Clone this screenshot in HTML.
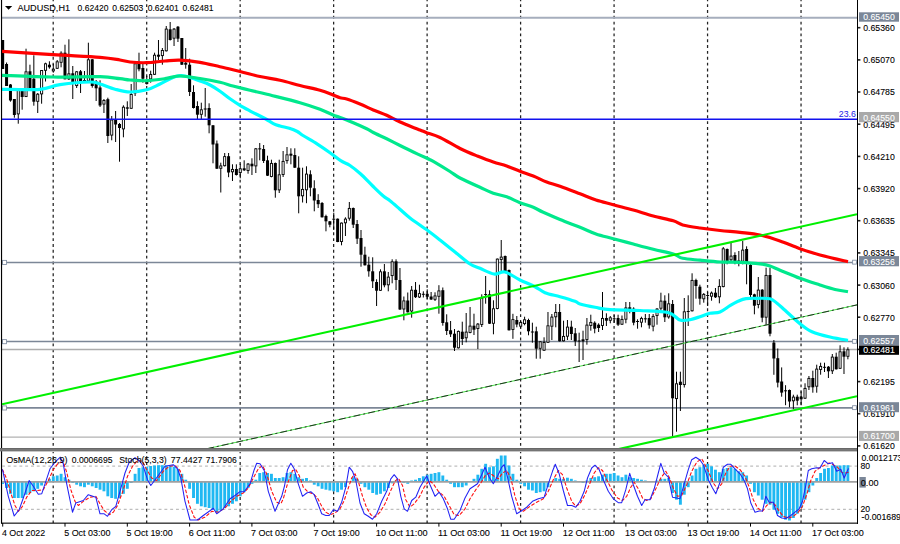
<!DOCTYPE html>
<html><head><meta charset="utf-8"><title>AUDUSD,H1</title>
<style>
html,body{margin:0;padding:0;background:#fff;}
body{width:900px;height:544px;overflow:hidden;position:relative;font-family:"Liberation Sans",sans-serif;}
svg{position:absolute;left:0;top:0;display:block;}
text{font-family:"Liberation Sans",sans-serif;}
.t{font-size:9.6px;fill:#000;stroke:#000;stroke-width:0.1px;}
.ax{font-size:9.6px;fill:#000;stroke:#000;stroke-width:0.1px;}
.bx{font-size:9.6px;fill:#fff;stroke:#fff;stroke-width:0.1px;}
</style></head><body>
<svg width="900" height="544" viewBox="0 0 900 544">
<rect x="0" y="0" width="900" height="544" fill="#fff"/>
<defs>
<clipPath id="cm"><rect x="2" y="0" width="855" height="448"/></clipPath>
<clipPath id="ci"><rect x="2" y="451.5" width="855" height="71.5"/></clipPath>
</defs>
<g stroke="#222" stroke-width="1.25" stroke-dasharray="2.9 2.95" stroke-dashoffset="1.7">
<line x1="53.2" y1="0" x2="53.2" y2="448"/>
<line x1="53.2" y1="452.0" x2="53.2" y2="523"/>
<line x1="146.69" y1="0" x2="146.69" y2="448"/>
<line x1="146.69" y1="452.0" x2="146.69" y2="523"/>
<line x1="240.16" y1="0" x2="240.16" y2="448"/>
<line x1="240.16" y1="452.0" x2="240.16" y2="523"/>
<line x1="333.64" y1="0" x2="333.64" y2="448"/>
<line x1="333.64" y1="452.0" x2="333.64" y2="523"/>
<line x1="427.12" y1="0" x2="427.12" y2="448"/>
<line x1="427.12" y1="452.0" x2="427.12" y2="523"/>
<line x1="520.6" y1="0" x2="520.6" y2="448"/>
<line x1="520.6" y1="452.0" x2="520.6" y2="523"/>
<line x1="614.08" y1="0" x2="614.08" y2="448"/>
<line x1="614.08" y1="452.0" x2="614.08" y2="523"/>
<line x1="707.56" y1="0" x2="707.56" y2="448"/>
<line x1="707.56" y1="452.0" x2="707.56" y2="523"/>
<line x1="801.04" y1="0" x2="801.04" y2="448"/>
<line x1="801.04" y1="452.0" x2="801.04" y2="523"/>
</g>
<g clip-path="url(#cm)">
<line x1="2" y1="17.8" x2="857" y2="17.8" stroke="#a6aebd" stroke-width="2.0"/>
<line x1="2" y1="262.4" x2="857" y2="262.4" stroke="#7c8797" stroke-width="1.5"/>
<line x1="2" y1="341.6" x2="857" y2="341.6" stroke="#7c8797" stroke-width="1.5"/>
<line x1="2" y1="349.5" x2="857" y2="349.5" stroke="#adadad" stroke-width="1.3"/>
<line x1="2" y1="407.9" x2="857" y2="407.9" stroke="#7c8797" stroke-width="1.7"/>
<line x1="2" y1="437.1" x2="857" y2="437.1" stroke="#b2b2b2" stroke-width="1.4"/>
</g>
<g clip-path="url(#cm)">
<path d="M2.67 40.0V69.0M6.56 62.5V86.0M10.46 84.0V101.7M14.36 99.0V117.7M18.25 88.0V123.7M22.15 88.0V109.7M26.04 48.7V97.0M29.94 64.7V91.0M33.83 55.3V105.7M37.73 93.0V113.0M41.62 70.0V103.7M45.52 62.7V81.5M49.41 61.3V68.7M53.30 64.0V72.7M57.20 60.0V69.0M61.09 51.3V67.3M64.99 44.7V79.3M68.89 39.3V80.0M72.78 66.0V99.0M76.67 71.0V88.0M80.57 70.0V93.0M84.47 71.0V81.5M88.36 42.7V81.5M92.25 59.0V87.7M96.15 80.0V101.0M100.05 80.3V107.0M103.94 99.0V113.0M107.84 97.7V143.0M111.73 116.0V140.3M115.62 111.0V142.0M119.52 123.0V161.7M123.42 105.3V137.3M127.31 101.3V116.0M131.20 84.0V109.0M135.10 63.0V96.0M138.99 52.7V71.3M142.89 62.7V82.7M146.78 76.0V84.5M150.68 70.7V82.7M154.57 52.7V75.0M158.47 40.0V60.0M162.36 48.0V64.7M166.26 26.0V51.5M170.16 22.0V40.5M174.05 28.0V46.0M177.94 26.0V42.0M181.84 38.0V65.0M185.73 48.0V68.7M189.63 58.7V96.0M193.52 85.3V108.5M197.42 101.3V120.0M201.31 102.7V120.0M205.21 88.0V116.7M209.10 103.3V133.3M213.00 125.0V163.3M216.89 140.5V169.0M220.79 162.7V192.5M224.69 153.0V166.5M228.58 153.0V177.2M232.47 164.3V181.0M236.37 164.3V175.5M240.26 163.7V178.3M244.16 160.3V171.0M248.05 163.0V173.7M251.95 158.3V175.0M255.84 148.0V173.0M259.74 143.0V160.3M263.63 145.0V163.0M267.53 155.7V176.0M271.43 159.7V177.3M275.32 162.5V197.7M279.22 159.7V193.0M283.11 151.0V177.0M287.00 147.0V163.7M290.90 148.3V164.3M294.80 148.3V168.0M298.69 156.3V213.3M302.59 167.7V202.5M306.48 166.3V203.2M310.38 170.3V196.3M314.27 180.3V211.3M318.17 194.2V208.0M322.06 202.0V217.5M325.96 214.7V231.3M329.85 221.0V227.3M333.75 212.7V230.0M337.64 218.5V242.2M341.54 222.5V245.3M345.43 217.3V236.0M349.33 202.0V220.7M353.22 207.5V228.0M357.12 220.0V244.0M361.01 230.0V266.7M364.91 246.7V265.5M368.80 256.7V276.7M372.69 257.3V288.0M376.59 279.3V306.0M380.49 269.3V291.0M384.38 264.0V287.3M388.28 272.0V291.3M392.17 259.3V283.3M396.06 259.3V290.0M399.96 268.0V310.0M403.86 296.5V320.3M407.75 292.5V312.5M411.65 286.0V317.7M415.54 282.0V298.0M419.44 284.7V298.0M423.33 291.3V297.5M427.23 289.3V299.3M431.12 292.0V300.0M435.02 292.3V301.0M438.91 285.2V313.7M442.81 287.5V325.7M446.70 314.3V335.0M450.60 321.0V337.0M454.49 329.0V351.0M458.38 330.5V348.5M462.28 321.7V345.0M466.18 313.0V342.3M470.07 307.0V333.3M473.97 313.7V335.0M477.86 323.0V349.0M481.75 294.3V327.0M485.65 276.0V303.7M489.55 290.3V324.0M493.44 300.3V334.3M497.34 258.5V309.3M501.23 240.0V271.0M505.12 255.5V271.5M509.02 269.5V330.5M512.91 313.8V338.8M516.81 316.0V327.3M520.70 321.0V328.7M524.60 316.7V325.3M528.50 318.7V335.3M532.39 322.7V342.7M536.28 326.7V358.7M540.18 341.0V358.7M544.07 337.3V351.0M547.97 312.0V343.0M551.87 314.0V340.0M555.76 304.0V327.3M559.65 304.0V341.5M563.55 320.7V341.5M567.44 320.0V340.0M571.34 320.7V340.0M575.24 328.0V346.0M579.13 332.7V362.0M583.02 330.7V360.0M586.92 318.0V344.7M590.81 314.7V330.7M594.71 321.3V333.3M598.61 323.3V332.0M602.50 292.0V330.0M606.39 313.3V326.0M610.29 316.0V323.3M614.18 314.7V322.7M618.08 314.7V326.0M621.97 315.5V325.0M625.87 302.0V323.3M629.76 302.0V313.3M633.66 307.3V325.3M637.55 319.3V328.7M641.45 316.7V327.3M645.34 314.0V322.7M649.24 314.0V328.7M653.13 314.0V331.3M657.03 308.0V324.7M660.92 292.7V310.7M664.82 295.3V322.0M668.71 293.3V318.7M672.61 300.0V436.3M676.50 371.7V431.7M680.40 371.7V411.0M684.29 298.0V387.5M688.19 295.3V326.0M692.08 273.3V311.5M695.98 278.7V298.7M699.88 284.7V304.7M703.77 293.0V302.7M707.66 292.0V306.0M711.56 291.5V300.7M715.45 288.0V298.0M719.35 279.2V303.3M723.25 247.0V287.3M727.14 248.5V264.3M731.03 243.0V261.0M734.93 252.3V264.3M738.82 251.0V266.3M742.72 241.0V264.3M746.62 246.3V284.3M750.51 264.0V297.0M754.40 293.7V314.3M758.30 277.0V308.3M762.19 289.0V322.3M766.09 267.7V325.0M769.99 267.7V336.3M773.88 340.0V374.8M777.77 348.5V387.4M781.67 367.4V396.7M785.56 385.2V405.2M789.46 389.5V407.3M793.36 394.7V409.3M797.25 394.7V405.3M801.14 391.3V405.3M805.04 383.3V399.0M808.93 376.0V390.0M812.83 370.7V392.7M816.72 364.7V392.7M820.62 362.7V374.7M824.51 362.7V372.0M828.41 366.0V378.0M832.30 354.0V374.0M836.20 352.7V369.5M840.09 345.3V369.0M843.99 347.3V374.0M847.88 347.3V359.3" stroke="#000" stroke-width="1" fill="none"/>
<g fill="#000"><rect x="1.17" y="40.0" width="3" height="29.0"/><rect x="5.06" y="64.0" width="3" height="22.0"/><rect x="8.96" y="84.5" width="3" height="16.0"/><rect x="12.86" y="99.0" width="3" height="16.0"/><rect x="20.65" y="88.3" width="3" height="8.7"/><rect x="28.44" y="71.3" width="3" height="18.7"/><rect x="32.33" y="78.7" width="3" height="23.0"/><rect x="47.91" y="64.7" width="3" height="2.6"/><rect x="63.49" y="52.7" width="3" height="26.6"/><rect x="71.28" y="73.3" width="3" height="9.4"/><rect x="79.07" y="71.3" width="3" height="10.0"/><rect x="82.97" y="80.0" width="3" height="1.3"/><rect x="90.75" y="59.3" width="3" height="26.7"/><rect x="94.65" y="81.5" width="3" height="6.8"/><rect x="98.55" y="87.5" width="3" height="18.0"/><rect x="106.34" y="99.2" width="3" height="36.8"/><rect x="114.12" y="119.5" width="3" height="5.0"/><rect x="118.02" y="124.0" width="3" height="4.0"/><rect x="125.81" y="107.3" width="3" height="1.4"/><rect x="137.49" y="63.3" width="3" height="6.0"/><rect x="141.39" y="68.0" width="3" height="10.7"/><rect x="156.97" y="54.7" width="3" height="2.0"/><rect x="168.66" y="29.3" width="3" height="10.7"/><rect x="176.44" y="26.7" width="3" height="12.0"/><rect x="180.34" y="38.0" width="3" height="26.7"/><rect x="184.23" y="62.7" width="3" height="2.0"/><rect x="188.13" y="64.7" width="3" height="27.3"/><rect x="192.02" y="92.0" width="3" height="16.0"/><rect x="195.92" y="106.0" width="3" height="8.7"/><rect x="203.71" y="108.5" width="3" height="1.0"/><rect x="207.60" y="108.0" width="3" height="17.3"/><rect x="211.50" y="125.3" width="3" height="19.2"/><rect x="215.39" y="143.5" width="3" height="25.2"/><rect x="227.08" y="156.2" width="3" height="16.3"/><rect x="234.87" y="169.0" width="3" height="6.0"/><rect x="242.66" y="168.3" width="3" height="2.0"/><rect x="250.45" y="163.7" width="3" height="2.6"/><rect x="258.24" y="148.3" width="3" height="1.1"/><rect x="262.13" y="149.0" width="3" height="12.0"/><rect x="266.03" y="160.3" width="3" height="15.4"/><rect x="273.82" y="163.0" width="3" height="27.3"/><rect x="289.40" y="153.7" width="3" height="2.0"/><rect x="293.30" y="155.0" width="3" height="12.7"/><rect x="297.19" y="167.7" width="3" height="28.6"/><rect x="308.88" y="174.3" width="3" height="13.4"/><rect x="312.77" y="188.3" width="3" height="12.2"/><rect x="316.67" y="200.0" width="3" height="4.2"/><rect x="320.56" y="203.0" width="3" height="14.3"/><rect x="324.46" y="216.0" width="3" height="5.3"/><rect x="328.35" y="221.3" width="3" height="3.4"/><rect x="332.25" y="218.7" width="3" height="1.0"/><rect x="336.14" y="218.7" width="3" height="23.3"/><rect x="351.72" y="208.0" width="3" height="16.7"/><rect x="355.62" y="224.0" width="3" height="14.7"/><rect x="359.51" y="238.0" width="3" height="16.7"/><rect x="363.41" y="254.7" width="3" height="10.6"/><rect x="367.30" y="264.7" width="3" height="6.6"/><rect x="371.19" y="271.3" width="3" height="10.0"/><rect x="375.09" y="282.0" width="3" height="8.7"/><rect x="382.88" y="271.3" width="3" height="14.0"/><rect x="394.56" y="261.3" width="3" height="18.7"/><rect x="398.46" y="280.0" width="3" height="29.5"/><rect x="406.25" y="300.5" width="3" height="11.8"/><rect x="414.04" y="289.8" width="3" height="7.4"/><rect x="421.83" y="293.8" width="3" height="1.0"/><rect x="425.73" y="293.8" width="3" height="3.0"/><rect x="429.62" y="296.5" width="3" height="3.0"/><rect x="441.31" y="290.2" width="3" height="32.8"/><rect x="445.20" y="322.3" width="3" height="8.7"/><rect x="449.10" y="330.3" width="3" height="4.0"/><rect x="452.99" y="333.7" width="3" height="14.0"/><rect x="460.78" y="331.7" width="3" height="7.3"/><rect x="472.47" y="325.7" width="3" height="4.0"/><rect x="484.15" y="294.0" width="3" height="1.0"/><rect x="488.05" y="294.3" width="3" height="29.4"/><rect x="503.62" y="256.0" width="3" height="15.3"/><rect x="507.52" y="270.0" width="3" height="60.3"/><rect x="515.31" y="320.0" width="3" height="4.5"/><rect x="527.00" y="320.0" width="3" height="11.3"/><rect x="530.89" y="331.5" width="3" height="1.0"/><rect x="534.78" y="331.3" width="3" height="17.4"/><rect x="558.15" y="312.0" width="3" height="29.3"/><rect x="569.84" y="326.7" width="3" height="7.3"/><rect x="573.74" y="333.3" width="3" height="8.0"/><rect x="577.63" y="340.5" width="3" height="1.0"/><rect x="581.52" y="339.3" width="3" height="2.0"/><rect x="593.21" y="322.7" width="3" height="6.0"/><rect x="597.11" y="324.7" width="3" height="3.3"/><rect x="604.89" y="318.0" width="3" height="2.7"/><rect x="612.68" y="318.3" width="3" height="1.0"/><rect x="616.58" y="318.0" width="3" height="6.7"/><rect x="628.26" y="307.3" width="3" height="2.0"/><rect x="632.16" y="308.7" width="3" height="14.0"/><rect x="636.05" y="321.0" width="3" height="1.0"/><rect x="643.84" y="318.3" width="3" height="1.0"/><rect x="647.74" y="318.0" width="3" height="7.3"/><rect x="663.32" y="300.7" width="3" height="16.6"/><rect x="671.11" y="304.0" width="3" height="94.3"/><rect x="678.90" y="381.7" width="3" height="3.3"/><rect x="686.69" y="311.0" width="3" height="1.0"/><rect x="694.48" y="280.0" width="3" height="6.0"/><rect x="698.38" y="286.7" width="3" height="12.0"/><rect x="706.16" y="295.0" width="3" height="1.0"/><rect x="713.95" y="292.7" width="3" height="4.6"/><rect x="725.64" y="249.0" width="3" height="12.0"/><rect x="733.43" y="255.0" width="3" height="6.0"/><rect x="737.32" y="260.5" width="3" height="1.0"/><rect x="745.12" y="249.0" width="3" height="14.7"/><rect x="749.01" y="265.0" width="3" height="30.0"/><rect x="752.90" y="294.3" width="3" height="11.4"/><rect x="760.69" y="289.7" width="3" height="28.0"/><rect x="768.49" y="275.0" width="3" height="58.7"/><rect x="772.38" y="342.6" width="3" height="15.9"/><rect x="776.27" y="358.2" width="3" height="24.4"/><rect x="780.17" y="381.5" width="3" height="11.1"/><rect x="784.06" y="390.3" width="3" height="1.0"/><rect x="787.96" y="390.0" width="3" height="11.5"/><rect x="795.75" y="396.7" width="3" height="4.0"/><rect x="799.64" y="396.7" width="3" height="2.6"/><rect x="811.33" y="378.0" width="3" height="9.3"/><rect x="823.01" y="366.8" width="3" height="1.0"/><rect x="826.91" y="366.7" width="3" height="4.6"/><rect x="834.70" y="356.7" width="3" height="12.6"/><rect x="842.49" y="351.3" width="3" height="5.4"/></g>
<g fill="#fff" stroke="#000" stroke-width="0.9"><rect x="17.20" y="88.8" width="2.1" height="25.1"/><rect x="24.99" y="71.8" width="2.1" height="24.8"/><rect x="36.68" y="94.2" width="2.1" height="7.1"/><rect x="40.57" y="70.5" width="2.1" height="23.4"/><rect x="44.47" y="63.8" width="2.1" height="6.5"/><rect x="52.26" y="69.2" width="2.1" height="1.7"/><rect x="56.15" y="61.8" width="2.1" height="6.5"/><rect x="60.05" y="53.2" width="2.1" height="9.1"/><rect x="67.84" y="73.8" width="2.1" height="5.1"/><rect x="75.62" y="71.8" width="2.1" height="13.8"/><rect x="87.31" y="59.8" width="2.1" height="21.1"/><rect x="102.89" y="100.5" width="2.1" height="3.6"/><rect x="110.68" y="120.0" width="2.1" height="15.1"/><rect x="122.37" y="107.2" width="2.1" height="21.7"/><rect x="130.15" y="94.5" width="2.1" height="13.8"/><rect x="134.05" y="63.8" width="2.1" height="29.1"/><rect x="145.73" y="82.5" width="2.1" height="1.1"/><rect x="149.63" y="74.5" width="2.1" height="4.4"/><rect x="153.52" y="55.2" width="2.1" height="19.1"/><rect x="161.31" y="50.5" width="2.1" height="5.1"/><rect x="165.21" y="29.1" width="2.1" height="21.7"/><rect x="173.00" y="29.1" width="2.1" height="9.1"/><rect x="200.26" y="109.8" width="2.1" height="4.5"/><rect x="219.74" y="165.9" width="2.1" height="2.4"/><rect x="223.63" y="156.6" width="2.1" height="9.1"/><rect x="231.42" y="169.4" width="2.1" height="2.4"/><rect x="239.21" y="168.8" width="2.1" height="3.8"/><rect x="247.00" y="164.1" width="2.1" height="6.4"/><rect x="254.79" y="148.8" width="2.1" height="17.1"/><rect x="270.38" y="163.4" width="2.1" height="13.1"/><rect x="278.17" y="174.8" width="2.1" height="15.1"/><rect x="282.06" y="161.4" width="2.1" height="13.1"/><rect x="285.95" y="154.8" width="2.1" height="5.8"/><rect x="301.54" y="189.4" width="2.1" height="6.4"/><rect x="305.43" y="174.1" width="2.1" height="15.7"/><rect x="340.49" y="223.1" width="2.1" height="18.4"/><rect x="344.38" y="219.1" width="2.1" height="3.7"/><rect x="348.28" y="208.4" width="2.1" height="9.8"/><rect x="379.44" y="271.8" width="2.1" height="18.5"/><rect x="387.23" y="277.1" width="2.1" height="7.7"/><rect x="391.12" y="261.8" width="2.1" height="13.8"/><rect x="402.81" y="300.9" width="2.1" height="8.1"/><rect x="410.60" y="290.2" width="2.1" height="20.8"/><rect x="418.38" y="293.6" width="2.1" height="3.4"/><rect x="433.97" y="295.9" width="2.1" height="3.4"/><rect x="437.86" y="290.9" width="2.1" height="5.4"/><rect x="457.33" y="331.4" width="2.1" height="16.4"/><rect x="465.12" y="332.1" width="2.1" height="5.7"/><rect x="469.02" y="326.1" width="2.1" height="6.4"/><rect x="476.81" y="324.1" width="2.1" height="4.4"/><rect x="480.70" y="298.1" width="2.1" height="26.4"/><rect x="492.39" y="308.8" width="2.1" height="14.5"/><rect x="496.29" y="259.1" width="2.1" height="49.4"/><rect x="500.18" y="257.1" width="2.1" height="2.4"/><rect x="511.86" y="319.6" width="2.1" height="9.9"/><rect x="519.65" y="322.4" width="2.1" height="3.8"/><rect x="523.55" y="319.8" width="2.1" height="3.8"/><rect x="539.13" y="341.8" width="2.1" height="6.5"/><rect x="543.02" y="342.4" width="2.1" height="7.8"/><rect x="546.92" y="325.8" width="2.1" height="16.5"/><rect x="550.82" y="317.1" width="2.1" height="9.1"/><rect x="554.71" y="312.4" width="2.1" height="4.4"/><rect x="562.50" y="336.4" width="2.1" height="4.4"/><rect x="566.39" y="327.1" width="2.1" height="9.1"/><rect x="585.87" y="325.1" width="2.1" height="14.4"/><rect x="589.76" y="322.4" width="2.1" height="3.1"/><rect x="601.45" y="318.4" width="2.1" height="7.1"/><rect x="609.24" y="317.8" width="2.1" height="2.5"/><rect x="620.92" y="319.4" width="2.1" height="4.8"/><rect x="624.82" y="307.9" width="2.1" height="11.3"/><rect x="640.40" y="318.4" width="2.1" height="3.8"/><rect x="652.09" y="316.4" width="2.1" height="9.8"/><rect x="655.98" y="309.1" width="2.1" height="6.4"/><rect x="659.88" y="301.1" width="2.1" height="7.1"/><rect x="667.66" y="303.8" width="2.1" height="13.1"/><rect x="675.46" y="383.8" width="2.1" height="14.8"/><rect x="683.25" y="311.8" width="2.1" height="72.8"/><rect x="691.03" y="280.4" width="2.1" height="30.4"/><rect x="702.72" y="294.4" width="2.1" height="4.4"/><rect x="710.51" y="293.1" width="2.1" height="3.1"/><rect x="718.30" y="286.4" width="2.1" height="10.4"/><rect x="722.20" y="248.8" width="2.1" height="37.8"/><rect x="729.99" y="256.1" width="2.1" height="3.7"/><rect x="741.67" y="250.1" width="2.1" height="11.1"/><rect x="757.25" y="290.1" width="2.1" height="14.4"/><rect x="765.04" y="275.4" width="2.1" height="41.8"/><rect x="792.31" y="397.1" width="2.1" height="3.7"/><rect x="803.99" y="388.4" width="2.1" height="9.8"/><rect x="807.88" y="378.4" width="2.1" height="8.4"/><rect x="815.67" y="369.1" width="2.1" height="17.1"/><rect x="819.57" y="366.4" width="2.1" height="3.1"/><rect x="831.25" y="357.1" width="2.1" height="13.7"/><rect x="839.04" y="351.8" width="2.1" height="16.5"/><rect x="846.84" y="349.8" width="2.1" height="6.5"/></g>
</g>
<g clip-path="url(#cm)">
<path d="M2.0 89.3C8.3 89.3 30.3 90.1 40.0 89.3C49.7 88.5 51.7 85.9 60.0 84.7C68.3 83.5 83.3 82.1 90.0 82.0C96.7 81.9 95.8 82.8 100.0 84.0C104.2 85.2 110.0 87.9 115.0 89.2C120.0 90.5 124.7 91.9 130.0 92.0C135.3 92.1 141.7 91.1 146.7 89.8C151.7 88.5 155.3 86.2 160.0 84.0C164.7 81.8 170.8 78.0 175.0 76.7C179.2 75.4 180.8 75.3 185.0 76.0C189.2 76.7 195.8 79.5 200.0 81.0C204.2 82.5 206.7 83.3 210.0 85.0C213.3 86.7 216.7 88.9 220.0 91.2C223.3 93.5 226.7 96.4 230.0 98.7C233.3 101.0 236.6 103.2 240.0 105.3C243.4 107.4 247.4 109.5 250.7 111.3C254.0 113.1 257.3 114.6 260.0 116.0C262.7 117.4 264.5 118.2 266.7 119.5C268.9 120.8 271.1 122.5 273.3 123.6C275.5 124.7 277.3 125.2 280.0 126.0C282.7 126.8 286.4 127.4 289.3 128.3C292.2 129.2 295.0 130.3 297.3 131.5C299.6 132.7 299.7 133.4 303.0 135.5C306.3 137.6 312.5 140.9 317.0 143.8C321.5 146.7 326.1 149.9 330.0 152.7C333.9 155.5 337.4 158.6 340.7 160.7C344.0 162.8 346.7 163.3 350.0 165.5C353.3 167.7 356.9 170.6 360.7 174.0C364.5 177.4 368.9 182.3 372.7 186.0C376.5 189.7 380.4 193.6 383.3 196.0C386.2 198.4 387.3 198.6 390.0 200.7C392.7 202.8 396.0 205.8 399.3 208.7C402.6 211.6 405.4 214.4 410.0 218.0C414.6 221.6 422.0 226.3 427.0 230.0C432.0 233.7 435.3 236.3 440.0 240.0C444.7 243.7 450.0 248.0 455.0 252.0C460.0 256.0 465.8 261.3 470.0 264.0C474.2 266.7 476.0 266.6 480.0 268.3C484.0 270.0 489.8 273.4 494.0 274.0C498.2 274.6 500.7 271.0 505.0 272.0C509.3 273.0 515.0 277.6 520.0 280.0C525.0 282.4 530.8 284.6 535.0 286.7C539.2 288.8 540.8 291.0 545.0 292.7C549.2 294.4 555.0 295.3 560.0 296.7C565.0 298.1 571.7 300.1 575.0 301.3C578.3 302.5 576.7 303.0 580.0 304.0C583.3 305.0 590.0 306.4 595.0 307.3C600.0 308.2 602.5 309.2 610.0 309.7C617.5 310.2 630.3 310.0 640.0 310.5C649.7 311.0 661.3 310.9 668.0 312.5C674.7 314.1 676.3 318.8 680.0 320.0C683.7 321.2 686.7 320.2 690.0 319.7C693.3 319.1 696.7 317.8 700.0 316.7C703.3 315.6 706.7 314.1 710.0 313.3C713.3 312.5 716.7 313.3 720.0 312.0C723.3 310.7 727.0 307.5 730.0 305.7C733.0 303.9 735.3 302.5 738.0 301.3C740.7 300.1 742.7 299.1 746.0 298.6C749.3 298.1 754.0 298.3 758.0 298.3C762.0 298.3 766.8 298.0 770.0 298.8C773.2 299.6 774.5 301.3 777.0 303.2C779.5 305.1 781.2 306.9 785.0 310.3C788.8 313.7 795.5 320.1 800.0 323.7C804.5 327.3 807.0 329.5 812.0 331.7C817.0 333.9 824.0 335.6 830.0 337.0C836.0 338.4 845.0 339.8 848.0 340.3" fill="none" stroke="#00ffff" stroke-width="3.2" stroke-linecap="butt" stroke-linejoin="round"/>
<path d="M2.0 75.3C10.5 75.6 36.7 76.8 53.0 77.0C69.3 77.2 88.8 76.4 100.0 76.7C111.2 77.0 115.0 78.2 120.0 78.7C125.0 79.2 125.5 79.7 130.0 80.0C134.4 80.3 140.9 80.9 146.7 80.7C152.5 80.5 159.4 79.5 165.0 78.7C170.6 77.9 174.2 76.0 180.0 76.0C185.8 76.0 193.3 77.5 200.0 78.5C206.7 79.5 214.5 81.0 220.0 82.3C225.5 83.5 228.0 84.7 233.0 86.0C238.0 87.3 244.3 88.9 250.0 90.3C255.7 91.7 258.7 92.2 267.0 94.3C275.3 96.4 291.2 100.2 300.0 102.7C308.8 105.2 314.5 107.2 320.0 109.3C325.5 111.3 329.7 113.6 333.0 115.0C336.3 116.4 336.6 116.2 340.0 117.5C343.4 118.8 348.9 120.9 353.3 122.8C357.8 124.7 363.4 127.2 366.7 128.8C370.0 130.4 370.0 130.8 373.3 132.5C376.6 134.2 382.2 136.6 386.7 138.8C391.1 141.0 395.6 143.3 400.0 145.5C404.4 147.7 408.8 149.9 413.3 152.0C417.8 154.1 423.7 156.8 427.0 158.3C430.3 159.9 429.5 159.1 433.3 161.3C437.1 163.5 445.6 168.7 450.0 171.5C454.4 174.3 455.0 175.4 460.0 178.0C465.0 180.6 474.4 184.8 480.0 187.3C485.6 189.9 488.9 191.7 493.3 193.3C497.8 194.9 502.2 195.2 506.7 196.8C511.1 198.4 515.6 200.9 520.0 202.7C524.4 204.4 529.5 205.8 533.3 207.3C537.1 208.9 538.2 210.0 542.7 212.0C547.2 214.0 553.8 216.9 560.0 219.5C566.2 222.1 574.0 224.9 580.0 227.3C586.0 229.7 590.5 232.1 596.0 234.0C601.5 235.9 607.1 237.0 613.3 238.7C619.5 240.4 626.6 242.2 633.3 244.0C640.0 245.8 646.6 247.6 653.3 249.3C660.0 251.0 668.4 252.5 673.3 254.0C678.2 255.5 678.2 257.3 682.7 258.3C687.2 259.3 693.8 259.6 700.0 260.2C706.2 260.8 713.3 261.6 720.0 262.0C726.7 262.4 733.3 262.0 740.0 262.3C746.7 262.6 755.0 263.2 760.0 263.8C765.0 264.4 766.7 264.9 770.0 266.0C773.3 267.1 775.0 268.1 780.0 270.2C785.0 272.2 793.3 275.8 800.0 278.3C806.7 280.8 814.2 283.1 820.0 285.0C825.8 286.9 830.3 288.4 835.0 289.5C839.7 290.6 845.8 291.3 848.0 291.7" fill="none" stroke="#00e88c" stroke-width="3.2" stroke-linecap="butt" stroke-linejoin="round"/>
<path d="M2.0 51.3C10.5 51.9 36.7 53.7 53.0 54.7C69.3 55.7 88.8 56.4 100.0 57.3C111.2 58.2 115.0 59.2 120.0 60.0C125.0 60.8 125.5 61.5 130.0 62.0C134.4 62.5 140.9 62.9 146.7 62.7C152.5 62.5 159.4 61.4 165.0 61.0C170.6 60.6 174.2 60.0 180.0 60.2C185.8 60.4 193.3 61.2 200.0 62.3C206.7 63.4 213.3 65.2 220.0 66.7C226.7 68.2 233.3 69.9 240.0 71.5C246.7 73.1 253.3 75.0 260.0 76.5C266.7 78.0 273.3 78.8 280.0 80.3C286.7 81.8 293.3 83.8 300.0 85.5C306.7 87.2 314.5 88.6 320.0 90.2C325.5 91.8 329.7 93.7 333.0 95.0C336.3 96.3 337.7 97.1 340.0 97.8C342.3 98.5 343.4 98.0 346.7 99.0C350.0 100.0 355.6 102.2 360.0 104.0C364.4 105.8 368.9 108.1 373.3 110.0C377.8 111.9 382.9 113.6 386.7 115.3C390.5 117.0 392.7 118.4 396.0 120.0C399.3 121.6 402.7 123.0 406.7 124.7C410.7 126.4 416.7 128.7 420.0 130.0C423.3 131.3 423.4 131.4 426.7 132.7C430.0 133.9 434.4 134.9 440.0 137.5C445.6 140.1 453.8 145.4 460.0 148.5C466.2 151.6 471.8 153.8 477.3 156.0C482.9 158.2 488.4 160.3 493.3 162.0C498.2 163.7 502.2 164.4 506.7 166.0C511.1 167.6 515.6 169.6 520.0 171.3C524.4 173.0 528.8 174.2 533.3 176.0C537.8 177.8 542.2 180.3 546.7 182.0C551.2 183.7 554.5 184.2 560.0 186.2C565.5 188.2 574.0 191.5 580.0 193.8C586.0 196.1 590.5 198.2 596.0 200.0C601.5 201.8 607.1 203.0 613.3 204.7C619.5 206.4 626.6 208.1 633.3 210.0C640.0 211.9 646.6 214.2 653.3 216.0C660.0 217.8 668.4 219.3 673.3 220.8C678.2 222.3 678.2 223.8 682.7 225.0C687.2 226.2 693.8 227.1 700.0 228.0C706.2 228.9 713.3 229.8 720.0 230.5C726.7 231.2 733.3 231.6 740.0 232.3C746.7 233.1 753.3 233.6 760.0 235.0C766.7 236.4 773.3 238.7 780.0 241.0C786.7 243.3 793.3 246.4 800.0 248.7C806.7 251.0 812.0 252.8 820.0 255.0C828.0 257.2 843.3 260.6 848.0 261.7" fill="none" stroke="#ff0000" stroke-width="3.2" stroke-linecap="butt" stroke-linejoin="round"/>
</g>
<g clip-path="url(#cm)" fill="none">
<line x1="2" y1="404.30" x2="857" y2="214.15" stroke="#00f000" stroke-width="2.1" />
<line x1="2" y1="585.62" x2="857" y2="396.23" stroke="#00f000" stroke-width="2.1" />
<line x1="2" y1="494.10" x2="857" y2="304.89" stroke="#30e030" stroke-width="0.9" />
<line x1="2" y1="494.10" x2="857" y2="304.89" stroke="#1c1c1c" stroke-width="0.9" stroke-dasharray="7 3 2 3"/>
<line x1="2" y1="119.3" x2="857" y2="119.3" stroke="#1212ee" stroke-width="1.6"/>
</g>
<rect x="852.6" y="260.2" width="3.8" height="3.9" fill="#fff" stroke="#8592a6" stroke-width="0.9"/>
<rect x="2.5" y="260.4" width="4.0" height="4.1" fill="#fff" stroke="#8592a6" stroke-width="0.9"/>
<rect x="852.6" y="339.4" width="3.8" height="3.9" fill="#fff" stroke="#8592a6" stroke-width="0.9"/>
<rect x="2.5" y="339.6" width="4.0" height="4.1" fill="#fff" stroke="#8592a6" stroke-width="0.9"/>
<rect x="852.6" y="405.7" width="3.8" height="3.9" fill="#fff" stroke="#8592a6" stroke-width="0.9"/>
<rect x="2.5" y="405.9" width="4.0" height="4.1" fill="#fff" stroke="#8592a6" stroke-width="0.9"/>
<rect x="0.95" y="0" width="1.15" height="448" fill="#000"/>
<rect x="0.95" y="451.0" width="1.15" height="72.5" fill="#000"/>
<rect x="0" y="448.2" width="857" height="1.5" fill="#444"/>
<rect x="0" y="449.7" width="857" height="1.7" fill="#747474"/>
<rect x="857" y="0" width="1" height="524" fill="#000"/>
<rect x="1" y="522.6" width="857" height="1.1" fill="#000"/>
<g clip-path="url(#ci)">
<line x1="2" y1="466.1" x2="857" y2="466.1" stroke="#aeaeae" stroke-width="1" stroke-dasharray="2.9 2.9"/>
<line x1="2" y1="509.3" x2="857" y2="509.3" stroke="#aeaeae" stroke-width="1" stroke-dasharray="2.9 2.9"/>
<g fill="#1fb8f2"><rect x="1.22" y="481.8" width="2.9" height="2.2"/><rect x="5.11" y="481.8" width="2.9" height="6.2"/><rect x="9.01" y="481.8" width="2.9" height="12.0"/><rect x="12.91" y="481.8" width="2.9" height="16.2"/><rect x="16.80" y="481.8" width="2.9" height="16.2"/><rect x="20.70" y="481.8" width="2.9" height="16.2"/><rect x="24.59" y="481.8" width="2.9" height="12.9"/><rect x="28.49" y="481.8" width="2.9" height="11.2"/><rect x="32.38" y="481.8" width="2.9" height="9.5"/><rect x="36.27" y="481.8" width="2.9" height="7.0"/><rect x="40.17" y="481.8" width="2.9" height="3.7"/><rect x="44.06" y="481.8" width="2.9" height="0.7"/><rect x="47.96" y="478.8" width="2.9" height="3.0"/><rect x="51.85" y="476.3" width="2.9" height="5.5"/><rect x="55.75" y="475.5" width="2.9" height="6.3"/><rect x="59.64" y="473.8" width="2.9" height="8.0"/><rect x="63.54" y="477.2" width="2.9" height="4.6"/><rect x="67.44" y="479.7" width="2.9" height="2.1"/><rect x="71.33" y="481.8" width="2.9" height="1.2"/><rect x="75.22" y="481.8" width="2.9" height="2.9"/><rect x="79.12" y="481.8" width="2.9" height="4.5"/><rect x="83.02" y="481.8" width="2.9" height="5.4"/><rect x="86.91" y="481.8" width="2.9" height="2.9"/><rect x="90.80" y="481.8" width="2.9" height="4.5"/><rect x="94.70" y="481.8" width="2.9" height="6.2"/><rect x="98.59" y="481.8" width="2.9" height="7.9"/><rect x="102.49" y="481.8" width="2.9" height="9.5"/><rect x="106.39" y="481.8" width="2.9" height="14.5"/><rect x="110.28" y="481.8" width="2.9" height="16.2"/><rect x="114.17" y="481.8" width="2.9" height="17.0"/><rect x="118.07" y="481.8" width="2.9" height="16.2"/><rect x="121.97" y="481.8" width="2.9" height="12.0"/><rect x="125.86" y="481.8" width="2.9" height="7.0"/><rect x="129.75" y="481.8" width="2.9" height="1.2"/><rect x="133.65" y="473.8" width="2.9" height="8.0"/><rect x="137.54" y="468.0" width="2.9" height="13.8"/><rect x="141.44" y="467.2" width="2.9" height="14.6"/><rect x="145.34" y="466.7" width="2.9" height="15.1"/><rect x="149.23" y="466.0" width="2.9" height="15.8"/><rect x="153.12" y="465.5" width="2.9" height="16.3"/><rect x="157.02" y="465.2" width="2.9" height="16.6"/><rect x="160.91" y="465.2" width="2.9" height="16.6"/><rect x="164.81" y="465.5" width="2.9" height="16.3"/><rect x="168.71" y="466.0" width="2.9" height="15.8"/><rect x="172.60" y="466.7" width="2.9" height="15.1"/><rect x="176.50" y="468.8" width="2.9" height="13.0"/><rect x="180.39" y="473.8" width="2.9" height="8.0"/><rect x="184.28" y="479.7" width="2.9" height="2.1"/><rect x="188.18" y="481.8" width="2.9" height="7.0"/><rect x="192.07" y="481.8" width="2.9" height="16.2"/><rect x="195.97" y="481.8" width="2.9" height="22.0"/><rect x="199.87" y="481.8" width="2.9" height="24.5"/><rect x="203.76" y="481.8" width="2.9" height="25.4"/><rect x="207.66" y="481.8" width="2.9" height="26.2"/><rect x="211.55" y="481.8" width="2.9" height="27.9"/><rect x="215.44" y="481.8" width="2.9" height="30.4"/><rect x="219.34" y="481.8" width="2.9" height="28.7"/><rect x="223.24" y="481.8" width="2.9" height="26.2"/><rect x="227.13" y="481.8" width="2.9" height="24.5"/><rect x="231.03" y="481.8" width="2.9" height="22.0"/><rect x="234.92" y="481.8" width="2.9" height="19.5"/><rect x="238.81" y="481.8" width="2.9" height="14.5"/><rect x="242.71" y="481.8" width="2.9" height="10.4"/><rect x="246.60" y="481.8" width="2.9" height="6.2"/><rect x="250.50" y="481.8" width="2.9" height="2.0"/><rect x="254.40" y="479.7" width="2.9" height="2.1"/><rect x="258.29" y="473.0" width="2.9" height="8.8"/><rect x="262.19" y="472.2" width="2.9" height="9.6"/><rect x="266.08" y="473.0" width="2.9" height="8.8"/><rect x="269.98" y="473.8" width="2.9" height="8.0"/><rect x="273.87" y="478.0" width="2.9" height="3.8"/><rect x="277.77" y="478.0" width="2.9" height="3.8"/><rect x="281.66" y="477.2" width="2.9" height="4.6"/><rect x="285.56" y="473.0" width="2.9" height="8.8"/><rect x="289.45" y="472.2" width="2.9" height="9.6"/><rect x="293.35" y="473.8" width="2.9" height="8.0"/><rect x="297.24" y="477.2" width="2.9" height="4.6"/><rect x="301.14" y="478.8" width="2.9" height="3.0"/><rect x="305.03" y="478.0" width="2.9" height="3.8"/><rect x="308.93" y="480.5" width="2.9" height="1.3"/><rect x="312.82" y="481.8" width="2.9" height="2.9"/><rect x="316.72" y="481.8" width="2.9" height="4.5"/><rect x="320.61" y="481.8" width="2.9" height="7.0"/><rect x="324.51" y="481.8" width="2.9" height="7.9"/><rect x="328.40" y="481.8" width="2.9" height="8.7"/><rect x="332.30" y="481.8" width="2.9" height="9.5"/><rect x="336.19" y="481.8" width="2.9" height="10.4"/><rect x="340.09" y="481.8" width="2.9" height="7.9"/><rect x="343.98" y="481.8" width="2.9" height="5.4"/><rect x="351.77" y="477.2" width="2.9" height="4.6"/><rect x="355.67" y="478.8" width="2.9" height="3.0"/><rect x="359.56" y="481.8" width="2.9" height="2.0"/><rect x="363.46" y="481.8" width="2.9" height="5.4"/><rect x="367.35" y="481.8" width="2.9" height="7.9"/><rect x="371.25" y="481.8" width="2.9" height="11.2"/><rect x="375.14" y="481.8" width="2.9" height="12.9"/><rect x="379.04" y="481.8" width="2.9" height="12.0"/><rect x="382.93" y="481.8" width="2.9" height="9.5"/><rect x="386.83" y="481.8" width="2.9" height="6.2"/><rect x="390.72" y="481.8" width="2.9" height="1.5"/><rect x="394.62" y="480.5" width="2.9" height="1.3"/><rect x="402.41" y="481.8" width="2.9" height="1.2"/><rect x="406.30" y="481.8" width="2.9" height="2.0"/><rect x="410.20" y="480.5" width="2.9" height="1.3"/><rect x="414.09" y="479.7" width="2.9" height="2.1"/><rect x="417.99" y="478.0" width="2.9" height="3.8"/><rect x="421.88" y="476.3" width="2.9" height="5.5"/><rect x="425.78" y="474.7" width="2.9" height="7.1"/><rect x="429.67" y="473.8" width="2.9" height="8.0"/><rect x="433.57" y="473.0" width="2.9" height="8.8"/><rect x="437.46" y="472.2" width="2.9" height="9.6"/><rect x="441.36" y="475.5" width="2.9" height="6.3"/><rect x="445.25" y="479.7" width="2.9" height="2.1"/><rect x="449.15" y="481.8" width="2.9" height="2.0"/><rect x="453.04" y="481.8" width="2.9" height="5.4"/><rect x="456.94" y="481.8" width="2.9" height="5.4"/><rect x="460.83" y="481.8" width="2.9" height="5.4"/><rect x="464.73" y="481.8" width="2.9" height="3.7"/><rect x="472.52" y="478.8" width="2.9" height="3.0"/><rect x="476.41" y="474.7" width="2.9" height="7.1"/><rect x="480.31" y="468.8" width="2.9" height="13.0"/><rect x="484.20" y="463.8" width="2.9" height="18.0"/><rect x="488.10" y="467.2" width="2.9" height="14.6"/><rect x="491.99" y="466.3" width="2.9" height="15.5"/><rect x="495.89" y="458.8" width="2.9" height="23.0"/><rect x="499.78" y="455.5" width="2.9" height="26.3"/><rect x="503.68" y="455.5" width="2.9" height="26.3"/><rect x="507.57" y="465.5" width="2.9" height="16.3"/><rect x="511.46" y="473.8" width="2.9" height="8.0"/><rect x="515.36" y="479.7" width="2.9" height="2.1"/><rect x="519.25" y="481.8" width="2.9" height="2.0"/><rect x="523.15" y="481.8" width="2.9" height="4.5"/><rect x="527.04" y="481.8" width="2.9" height="7.9"/><rect x="530.94" y="481.8" width="2.9" height="8.7"/><rect x="534.83" y="481.8" width="2.9" height="11.2"/><rect x="538.73" y="481.8" width="2.9" height="10.4"/><rect x="542.62" y="481.8" width="2.9" height="9.5"/><rect x="546.52" y="481.8" width="2.9" height="5.4"/><rect x="554.31" y="478.0" width="2.9" height="3.8"/><rect x="558.20" y="478.8" width="2.9" height="3.0"/><rect x="562.10" y="478.8" width="2.9" height="3.0"/><rect x="565.99" y="477.7" width="2.9" height="4.1"/><rect x="569.89" y="478.8" width="2.9" height="3.0"/><rect x="573.78" y="480.5" width="2.9" height="1.3"/><rect x="581.57" y="481.8" width="2.9" height="1.2"/><rect x="585.47" y="480.5" width="2.9" height="1.3"/><rect x="589.36" y="478.0" width="2.9" height="3.8"/><rect x="593.26" y="477.2" width="2.9" height="4.6"/><rect x="597.15" y="476.3" width="2.9" height="5.5"/><rect x="601.05" y="474.7" width="2.9" height="7.1"/><rect x="604.94" y="473.8" width="2.9" height="8.0"/><rect x="608.84" y="473.8" width="2.9" height="8.0"/><rect x="612.73" y="473.0" width="2.9" height="8.8"/><rect x="616.63" y="475.5" width="2.9" height="6.3"/><rect x="620.52" y="477.2" width="2.9" height="4.6"/><rect x="624.42" y="474.7" width="2.9" height="7.1"/><rect x="628.31" y="477.2" width="2.9" height="4.6"/><rect x="632.21" y="478.0" width="2.9" height="3.8"/><rect x="636.10" y="478.8" width="2.9" height="3.0"/><rect x="640.00" y="479.7" width="2.9" height="2.1"/><rect x="643.89" y="480.5" width="2.9" height="1.3"/><rect x="655.58" y="480.5" width="2.9" height="1.3"/><rect x="659.47" y="478.8" width="2.9" height="3.0"/><rect x="663.37" y="478.8" width="2.9" height="3.0"/><rect x="667.26" y="478.0" width="2.9" height="3.8"/><rect x="671.16" y="481.8" width="2.9" height="11.2"/><rect x="675.05" y="481.8" width="2.9" height="17.9"/><rect x="678.95" y="481.8" width="2.9" height="22.9"/><rect x="682.84" y="481.8" width="2.9" height="12.9"/><rect x="686.74" y="481.8" width="2.9" height="5.4"/><rect x="690.63" y="475.5" width="2.9" height="6.3"/><rect x="694.53" y="468.8" width="2.9" height="13.0"/><rect x="698.42" y="467.2" width="2.9" height="14.6"/><rect x="702.32" y="464.7" width="2.9" height="17.1"/><rect x="706.21" y="463.8" width="2.9" height="18.0"/><rect x="710.11" y="466.3" width="2.9" height="15.5"/><rect x="714.00" y="469.7" width="2.9" height="12.1"/><rect x="717.90" y="472.2" width="2.9" height="9.6"/><rect x="721.79" y="468.8" width="2.9" height="13.0"/><rect x="725.69" y="468.0" width="2.9" height="13.8"/><rect x="729.58" y="467.2" width="2.9" height="14.6"/><rect x="733.48" y="468.8" width="2.9" height="13.0"/><rect x="737.37" y="471.3" width="2.9" height="10.5"/><rect x="741.27" y="472.2" width="2.9" height="9.6"/><rect x="745.16" y="475.5" width="2.9" height="6.3"/><rect x="749.06" y="481.8" width="2.9" height="2.0"/><rect x="752.95" y="481.8" width="2.9" height="10.4"/><rect x="756.85" y="481.8" width="2.9" height="13.7"/><rect x="760.74" y="481.8" width="2.9" height="17.9"/><rect x="764.64" y="481.8" width="2.9" height="22.0"/><rect x="768.53" y="481.8" width="2.9" height="22.9"/><rect x="772.43" y="481.8" width="2.9" height="27.9"/><rect x="776.32" y="481.8" width="2.9" height="32.0"/><rect x="780.22" y="481.8" width="2.9" height="35.4"/><rect x="784.11" y="481.8" width="2.9" height="37.9"/><rect x="788.01" y="481.8" width="2.9" height="38.7"/><rect x="791.90" y="481.8" width="2.9" height="36.2"/><rect x="795.80" y="481.8" width="2.9" height="32.0"/><rect x="799.69" y="481.8" width="2.9" height="26.2"/><rect x="803.59" y="481.8" width="2.9" height="17.9"/><rect x="807.48" y="481.8" width="2.9" height="10.4"/><rect x="811.38" y="481.8" width="2.9" height="3.7"/><rect x="815.27" y="478.0" width="2.9" height="3.8"/><rect x="819.17" y="473.0" width="2.9" height="8.8"/><rect x="823.06" y="468.8" width="2.9" height="13.0"/><rect x="826.96" y="468.0" width="2.9" height="13.8"/><rect x="830.85" y="465.5" width="2.9" height="16.3"/><rect x="834.75" y="465.5" width="2.9" height="16.3"/><rect x="838.64" y="465.5" width="2.9" height="16.3"/><rect x="842.54" y="465.2" width="2.9" height="16.6"/><rect x="846.43" y="465.2" width="2.9" height="16.6"/></g>
<line x1="2" y1="481.8" x2="857" y2="481.8" stroke="#a0a0a0" stroke-width="1.8"/>
<polyline points="2.5,469.7 6.7,478.8 10.8,493.0 15.0,505.5 18.3,511.3 22.5,506.3 26.7,497.2 31.7,490.5 37.5,490.5 43.3,489.7 48.3,480.5 53.3,469.7 58.3,463.0 63.3,462.2 66.7,472.2 70.8,489.7 75.0,501.3 78.3,505.5 83.3,501.3 90.0,497.2 95.8,496.3 100.0,503.8 104.2,510.5 109.2,514.7 113.3,512.2 117.5,505.5 122.5,492.2 127.5,476.3 132.5,466.3 137.5,460.5 142.5,461.3 145.8,468.0 151.7,478.0 156.7,480.5 163.3,471.3 169.2,466.3 175.0,465.5 180.0,470.5 184.2,483.8 189.2,504.7 194.2,517.2 198.3,520.0 205.0,517.2 211.7,511.3 218.3,512.2 225.0,508.0 230.8,501.3 236.7,496.3 243.3,493.0 248.3,488.0 253.3,478.0 258.3,468.8 262.5,465.5 266.7,473.8 271.7,491.3 276.7,502.2 280.8,503.8 283.3,498.8 287.5,483.8 292.5,470.5 295.8,469.7 299.2,475.5 303.3,487.2 308.3,492.2 313.3,493.8 317.5,498.0 321.7,506.3 325.8,512.2 330.0,514.7 335.0,513.0 340.0,508.8 344.2,500.5 348.3,488.0 351.7,478.0 355.0,473.8 358.3,481.3 362.5,496.3 366.7,508.0 370.8,514.7 375.0,517.2 380.0,512.2 385.0,503.8 390.0,492.2 395.0,481.3 398.3,478.0 402.5,485.5 405.8,499.7 410.0,507.2 414.2,503.8 419.2,497.2 424.2,487.2 429.2,480.5 433.3,483.8 438.3,491.3 444.2,496.3 449.2,505.5 454.2,514.7 459.2,515.5 465.0,508.8 470.0,498.8 475.8,489.7 480.8,483.0 485.8,474.7 490.0,473.0 494.2,476.3 498.3,478.8 502.5,473.0 506.7,470.5 510.8,478.0 515.0,496.3 519.2,508.8 523.3,511.3 530.0,506.3 536.7,502.2 543.3,498.8 548.3,491.3 553.3,479.7 558.3,470.5 562.5,474.7 566.7,488.0 571.7,501.3 575.8,506.3 580.0,503.8 585.0,494.7 590.0,483.0 594.2,473.0 598.3,467.7 602.5,470.5 606.7,479.7 611.7,489.7 617.5,498.0 622.5,500.5 626.7,496.3 630.8,487.2 634.2,482.2 638.3,488.8 642.5,498.0 646.7,500.5 650.8,498.8 655.8,488.8 660.8,478.0 665.8,471.3 669.2,477.2 673.3,488.0 677.5,496.3 681.7,495.5 686.7,484.7 691.7,471.3 696.7,462.2 701.7,458.8 704.2,463.0 708.3,471.3 713.3,483.0 717.5,488.8 721.7,483.8 725.8,473.0 730.0,466.3 735.0,466.0 740.0,469.7 745.0,476.3 749.2,487.2 753.3,499.7 757.5,508.0 762.5,511.3 766.7,505.5 770.8,502.2 775.0,504.7 779.2,511.3 783.3,516.3 788.3,518.3 793.3,516.3 798.3,512.2 802.5,506.3 806.7,494.7 810.8,480.5 815.0,471.3 819.2,468.0 824.2,465.5 829.2,463.0 833.3,464.7 837.5,467.2 841.7,472.2 845.8,473.0 848.3,472.2" fill="none" stroke="#ff1010" stroke-width="1.1" stroke-linejoin="round" stroke-linecap="round" stroke-dasharray="2.8 2.6"/>
<polyline points="2.5,469.7 8.3,496.3 14.2,516.0 19.2,509.7 24.2,495.5 29.2,480.5 33.3,486.3 38.3,494.3 41.7,493.8 45.0,483.8 50.0,468.8 55.0,462.2 60.3,457.2 63.3,463.8 66.7,483.8 72.5,512.2 75.8,503.0 83.3,500.5 88.3,494.7 95.8,497.2 100.0,513.8 104.2,513.8 107.5,516.3 111.7,509.7 115.8,506.3 120.0,491.3 125.0,473.0 129.2,462.2 135.0,457.7 139.2,460.5 143.3,466.3 147.5,479.7 150.8,485.5 158.3,475.5 165.0,466.3 173.3,464.7 177.5,468.8 180.8,478.0 185.0,501.3 190.0,520.0 197.5,520.0 203.3,515.5 213.3,508.3 216.7,513.8 223.3,508.8 230.0,498.8 235.0,495.5 240.0,491.7 244.2,491.7 250.0,483.8 254.2,469.7 256.7,463.3 260.0,463.8 264.2,470.5 268.3,491.3 275.0,511.3 281.7,496.3 284.5,486.0 287.5,469.7 290.8,463.3 294.2,468.8 298.3,483.8 302.5,496.3 306.7,493.0 310.8,491.7 314.2,494.7 318.3,504.7 321.7,513.8 325.8,515.5 329.2,515.5 333.3,509.7 337.5,511.3 341.7,502.2 345.8,487.2 349.2,467.2 352.5,471.3 355.8,480.5 360.0,503.0 364.2,513.8 368.3,516.3 372.5,519.3 376.7,513.8 381.7,501.3 386.7,491.3 390.8,478.8 394.2,474.7 397.5,478.8 400.8,496.3 404.2,508.8 407.5,511.3 411.7,500.5 415.8,497.2 420.0,487.2 426.7,476.0 430.0,484.7 435.0,496.3 439.2,492.2 443.3,498.8 447.5,508.8 450.8,519.3 454.2,519.3 460.0,510.5 465.0,498.0 470.0,488.8 477.5,483.8 481.7,474.7 485.0,467.2 489.2,477.2 493.3,483.8 497.5,476.3 501.7,467.2 504.2,464.7 507.5,477.2 511.7,496.3 516.7,513.8 520.8,511.3 526.7,507.2 532.5,501.3 538.3,498.8 544.2,497.2 548.3,483.8 552.5,471.3 555.3,464.3 559.2,473.8 563.3,490.5 567.5,505.5 571.7,505.5 575.8,507.2 580.0,501.3 584.2,491.3 587.5,478.0 591.7,468.0 595.0,465.2 599.2,469.7 603.3,479.7 608.3,491.3 613.3,498.8 618.3,502.7 621.7,502.7 625.8,489.7 629.7,473.3 633.3,484.7 637.5,496.3 641.7,505.5 645.0,499.7 650.0,499.7 654.2,488.8 658.3,473.0 660.8,463.3 664.2,473.0 668.3,477.2 672.5,497.2 676.7,498.0 680.0,498.8 684.2,483.8 688.3,469.7 691.7,459.7 695.8,457.2 700.0,460.0 703.3,464.7 708.3,479.7 712.5,488.0 715.8,493.8 720.0,482.2 723.3,467.2 727.5,464.3 730.8,464.3 735.0,468.8 740.0,473.8 744.2,480.5 747.5,488.8 750.8,503.0 755.0,512.2 759.2,511.0 762.5,511.0 765.8,496.3 769.2,502.2 773.3,502.2 777.5,515.5 781.7,518.0 785.8,518.5 790.8,515.5 795.0,512.2 799.2,508.8 802.5,501.3 805.8,485.5 808.3,470.5 811.7,468.8 816.7,467.7 820.0,468.0 824.2,460.5 828.3,463.8 832.5,462.7 836.7,471.3 840.8,469.3 844.2,478.0 848.3,468.8" fill="none" stroke="#2222f4" stroke-width="1.05" stroke-linejoin="round" stroke-linecap="round" />
</g>
<path d="M5.0 5.9h7.2l-3.6 3.8z" fill="#000"/>
<text class="t" x="17.5" y="10.9" textLength="52.5" lengthAdjust="spacingAndGlyphs" >AUDUSD,H1</text>
<text class="t" x="77.5" y="10.9" textLength="30.9" lengthAdjust="spacingAndGlyphs" >0.62420</text>
<text class="t" x="112.3" y="10.9" textLength="31" lengthAdjust="spacingAndGlyphs" >0.62503</text>
<text class="t" x="147.7" y="10.9" textLength="31" lengthAdjust="spacingAndGlyphs" >0.62401</text>
<text class="t" x="182.6" y="10.9" textLength="30.8" lengthAdjust="spacingAndGlyphs" >0.62481</text>
<text class="t" x="6.3" y="462.6" textLength="61.2" lengthAdjust="spacingAndGlyphs" >OsMA(12,26,9)</text>
<text class="t" x="71.7" y="462.6" textLength="40.8" lengthAdjust="spacingAndGlyphs" >0.0006695</text>
<text class="t" x="119.2" y="462.6" textLength="47.5" lengthAdjust="spacingAndGlyphs" >Stoch(5,3,3)</text>
<text class="t" x="170.8" y="462.6" textLength="31.7" lengthAdjust="spacingAndGlyphs" >77.4427</text>
<text class="t" x="205.8" y="462.6" textLength="30.9" lengthAdjust="spacingAndGlyphs" >71.7906</text>
<text x="838.8" y="116.6" font-size="9.6" fill="#1a1ae6" textLength="17.2" lengthAdjust="spacingAndGlyphs">23.6</text>
<rect x="858" y="26.9" width="2.4" height="1.6" fill="#222"/>
<text class="ax" x="863.2" y="31.1" textLength="31.6" lengthAdjust="spacingAndGlyphs" >0.65360</text>
<rect x="858" y="59.1" width="2.4" height="1.6" fill="#222"/>
<text class="ax" x="863.2" y="63.3" textLength="31.6" lengthAdjust="spacingAndGlyphs" >0.65070</text>
<rect x="858" y="91.2" width="2.4" height="1.6" fill="#222"/>
<text class="ax" x="863.2" y="95.4" textLength="31.6" lengthAdjust="spacingAndGlyphs" >0.64785</text>
<rect x="858" y="123.4" width="2.4" height="1.6" fill="#222"/>
<text class="ax" x="863.2" y="127.6" textLength="31.6" lengthAdjust="spacingAndGlyphs" >0.64495</text>
<rect x="858" y="155.6" width="2.4" height="1.6" fill="#222"/>
<text class="ax" x="863.2" y="159.8" textLength="31.6" lengthAdjust="spacingAndGlyphs" >0.64210</text>
<rect x="858" y="187.8" width="2.4" height="1.6" fill="#222"/>
<text class="ax" x="863.2" y="192.0" textLength="31.6" lengthAdjust="spacingAndGlyphs" >0.63920</text>
<rect x="858" y="219.9" width="2.4" height="1.6" fill="#222"/>
<text class="ax" x="863.2" y="224.1" textLength="31.6" lengthAdjust="spacingAndGlyphs" >0.63635</text>
<rect x="858" y="252.1" width="2.4" height="1.6" fill="#222"/>
<text class="ax" x="863.2" y="256.3" textLength="31.6" lengthAdjust="spacingAndGlyphs" >0.63345</text>
<rect x="858" y="284.3" width="2.4" height="1.6" fill="#222"/>
<text class="ax" x="863.2" y="288.5" textLength="31.6" lengthAdjust="spacingAndGlyphs" >0.63060</text>
<rect x="858" y="316.4" width="2.4" height="1.6" fill="#222"/>
<text class="ax" x="863.2" y="320.6" textLength="31.6" lengthAdjust="spacingAndGlyphs" >0.62770</text>
<rect x="858" y="348.6" width="2.4" height="1.6" fill="#222"/>
<text class="ax" x="863.2" y="352.8" textLength="31.6" lengthAdjust="spacingAndGlyphs" >0.62485</text>
<rect x="858" y="380.8" width="2.4" height="1.6" fill="#222"/>
<text class="ax" x="863.2" y="385.0" textLength="31.6" lengthAdjust="spacingAndGlyphs" >0.62195</text>
<rect x="858" y="412.9" width="2.4" height="1.6" fill="#222"/>
<text class="ax" x="863.2" y="417.1" textLength="31.6" lengthAdjust="spacingAndGlyphs" >0.61910</text>
<rect x="858" y="445.1" width="2.4" height="1.6" fill="#222"/>
<text class="ax" x="863.2" y="449.3" textLength="31.6" lengthAdjust="spacingAndGlyphs" >0.61620</text>
<rect x="859" y="12.3" width="40" height="9.4" fill="#7b8798"/>
<text class="bx" x="863.2" y="20.4" textLength="31.6" lengthAdjust="spacingAndGlyphs" >0.65450</text>
<rect x="859" y="112.0" width="40" height="10.2" fill="#a9a9a9"/>
<text class="bx" x="863.2" y="120.5" textLength="31.6" lengthAdjust="spacingAndGlyphs" >0.64550</text>
<rect x="859" y="256.1" width="40" height="10.2" fill="#7b8798"/>
<text class="bx" x="863.2" y="264.6" textLength="31.6" lengthAdjust="spacingAndGlyphs" >0.63256</text>
<rect x="859" y="335.0" width="40" height="10.6" fill="#7b8798"/>
<text class="bx" x="863.2" y="343.6" textLength="31.6" lengthAdjust="spacingAndGlyphs" >0.62557</text>
<rect x="859" y="345.6" width="40" height="9.2" fill="#000000"/>
<text class="bx" x="863.2" y="352.6" textLength="31.6" lengthAdjust="spacingAndGlyphs" >0.62481</text>
<rect x="859" y="402.2" width="40" height="10" fill="#7b8798"/>
<text class="bx" x="863.2" y="410.6" textLength="31.6" lengthAdjust="spacingAndGlyphs" >0.61961</text>
<rect x="859" y="430.9" width="40" height="10" fill="#a9a9a9"/>
<text class="bx" x="863.2" y="439.3" textLength="31.6" lengthAdjust="spacingAndGlyphs" >0.61700</text>
<text class="ax" x="861.5" y="460.8" textLength="40.8" lengthAdjust="spacingAndGlyphs" >0.0012173</text>
<text class="ax" x="860.5" y="469.4" textLength="9.6" lengthAdjust="spacingAndGlyphs" >80</text>
<rect x="859.4" y="477" width="6.4" height="10.6" fill="#7b8798"/>
<text class="ax" x="860.8" y="485.6" textLength="17.7" lengthAdjust="spacingAndGlyphs" >0.00</text>
<text class="ax" x="860.5" y="512.4" textLength="9.6" lengthAdjust="spacingAndGlyphs" >20</text>
<text class="ax" x="861.5" y="520.3" textLength="39.5" lengthAdjust="spacingAndGlyphs" >-0.001689</text>
<rect x="2.2" y="523" width="1" height="3.6" fill="#000"/>
<text class="ax" x="1.9" y="535.6" textLength="43.3" lengthAdjust="spacingAndGlyphs" >4 Oct 2022</text>
<rect x="64.5" y="523" width="1" height="3.6" fill="#000"/>
<text class="ax" x="64.2" y="535.6" textLength="46.3" lengthAdjust="spacingAndGlyphs" >5 Oct 03:00</text>
<rect x="126.8" y="523" width="1" height="3.6" fill="#000"/>
<text class="ax" x="126.5" y="535.6" textLength="46.3" lengthAdjust="spacingAndGlyphs" >5 Oct 19:00</text>
<rect x="189.1" y="523" width="1" height="3.6" fill="#000"/>
<text class="ax" x="188.8" y="535.6" textLength="46.3" lengthAdjust="spacingAndGlyphs" >6 Oct 11:00</text>
<rect x="251.4" y="523" width="1" height="3.6" fill="#000"/>
<text class="ax" x="251.1" y="535.6" textLength="46.3" lengthAdjust="spacingAndGlyphs" >7 Oct 03:00</text>
<rect x="313.8" y="523" width="1" height="3.6" fill="#000"/>
<text class="ax" x="313.5" y="535.6" textLength="46.3" lengthAdjust="spacingAndGlyphs" >7 Oct 19:00</text>
<rect x="376.1" y="523" width="1" height="3.6" fill="#000"/>
<text class="ax" x="375.8" y="535.6" textLength="51.8" lengthAdjust="spacingAndGlyphs" >10 Oct 11:00</text>
<rect x="438.4" y="523" width="1" height="3.6" fill="#000"/>
<text class="ax" x="438.1" y="535.6" textLength="51.8" lengthAdjust="spacingAndGlyphs" >11 Oct 03:00</text>
<rect x="500.7" y="523" width="1" height="3.6" fill="#000"/>
<text class="ax" x="500.4" y="535.6" textLength="51.8" lengthAdjust="spacingAndGlyphs" >11 Oct 19:00</text>
<rect x="563.0" y="523" width="1" height="3.6" fill="#000"/>
<text class="ax" x="562.8" y="535.6" textLength="51.8" lengthAdjust="spacingAndGlyphs" >12 Oct 11:00</text>
<rect x="625.4" y="523" width="1" height="3.6" fill="#000"/>
<text class="ax" x="625.1" y="535.6" textLength="51.8" lengthAdjust="spacingAndGlyphs" >13 Oct 03:00</text>
<rect x="687.7" y="523" width="1" height="3.6" fill="#000"/>
<text class="ax" x="687.4" y="535.6" textLength="51.8" lengthAdjust="spacingAndGlyphs" >13 Oct 19:00</text>
<rect x="750.0" y="523" width="1" height="3.6" fill="#000"/>
<text class="ax" x="749.7" y="535.6" textLength="51.8" lengthAdjust="spacingAndGlyphs" >14 Oct 11:00</text>
<rect x="812.3" y="523" width="1" height="3.6" fill="#000"/>
<text class="ax" x="812.0" y="535.6" textLength="51.8" lengthAdjust="spacingAndGlyphs" >17 Oct 03:00</text>
</svg></body></html>
